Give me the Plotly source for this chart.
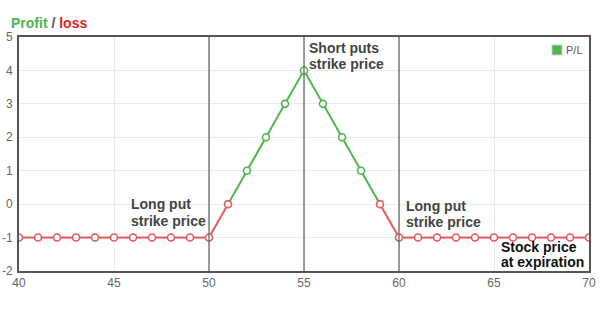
import plotly.graph_objects as go

prices = list(range(40, 71))
pl = [-1]*11 + [0, 1, 2, 3, 4, 3, 2, 1, 0] + [-1]*11
strikes = [50, 55, 60]
x_ticks = [40, 45, 50, 55, 60, 65, 70]
y_ticks = [-2, -1, 0, 1, 2, 3, 4, 5]
y_labels = ["-2", "-1", "0", "1", "2", "3", "4", "5"]

GREEN = "#4cb84c"
RED = "#e05a5a"

fig = go.Figure()

gx, gy, rx, ry = [], [], [], []
for i in range(len(prices) - 1):
    x1, x2, y1, y2 = prices[i], prices[i+1], pl[i], pl[i+1]
    if min(y1, y2) >= 0 and (y1 + y2) > 0:
        gx += [x1, x2, None]; gy += [y1, y2, None]
    else:
        rx += [x1, x2, None]; ry += [y1, y2, None]

fig.add_trace(go.Scatter(x=rx, y=ry, mode="lines", line=dict(color=RED, width=2),
                         showlegend=False, hoverinfo="skip"))
fig.add_trace(go.Scatter(x=gx, y=gy, mode="lines", line=dict(color=GREEN, width=2),
                         showlegend=False, hoverinfo="skip"))
mcol = [GREEN if v > 0 else RED for v in pl]
fig.add_trace(go.Scatter(x=prices, y=pl, mode="markers", name="P/L",
                         marker=dict(symbol="circle", size=7, color="white",
                                     line=dict(color=mcol, width=1.6)),
                         showlegend=False))

for s in strikes:
    fig.add_shape(type="line", x0=s, x1=s, y0=-2, y1=5, xref="x", yref="y",
                  line=dict(color="#666666", width=1.3))

# legend (square + label)
fig.add_shape(type="rect", xref="paper", yref="paper", x0=0.935, x1=0.9526, y0=0.923, y1=0.9658,
              fillcolor=GREEN, line=dict(color="#cfcfcf", width=1))
fig.add_annotation(xref="paper", yref="paper", x=0.957, y=0.944, text="P/L", showarrow=False,
                   xanchor="left", yanchor="middle",
                   font=dict(family="Arial, Liberation Sans", size=11, color="#555555"))

ann_font = dict(family="Arial, Liberation Sans", size=14, color="#444444")
labels = [
    (45.78, 0.0, "Long put", ann_font),
    (45.78, -0.5, "strike price", ann_font),
    (55.15, 4.67, "Short puts", ann_font),
    (55.15, 4.19, "strike price", ann_font),
    (60.26, -0.055, "Long put", ann_font),
    (60.26, -0.534, "strike price", ann_font),
    (65.26, -1.28, "Stock price", dict(ann_font, color="#111111")),
    (65.26, -1.73, "at expiration", dict(ann_font, color="#111111")),
]
for x, y, t, f in labels:
    fig.add_annotation(x=x, y=y, text=f"<b>{t}</b>", showarrow=False,
                       xanchor="left", yanchor="middle", align="left", font=f)

fig.add_annotation(xref="paper", yref="paper", x=-0.018, y=1.0, yshift=14,
                   text=f"<b><span style='color:{GREEN}'>Profit</span> / <span style='color:#e02020'>loss</span></b>",
                   showarrow=False, xanchor="left", yanchor="middle",
                   font=dict(family="Arial, Liberation Sans", size=14, color="#555555"))

fig.update_layout(
    width=602, height=329,
    margin=dict(l=19, r=13, t=37, b=58, autoexpand=False),
    paper_bgcolor="white", plot_bgcolor="white",
    font=dict(family="Arial, Liberation Sans", size=12, color="#666666"),
    showlegend=False,
)
fig.update_xaxes(range=[40, 70], tickvals=x_ticks, showgrid=True, gridcolor="#ebebeb",
                 zeroline=False, showline=True, linecolor="#555555", linewidth=2,
                 mirror=True, ticks="", tickfont=dict(size=12, color="#666666"),
                 automargin=False)
fig.update_yaxes(range=[-2, 5], tickvals=y_ticks, ticktext=y_labels, showgrid=True,
                 gridcolor="#ebebeb", zeroline=False, showline=True, linecolor="#555555",
                 linewidth=2, mirror=True, ticks="", tickfont=dict(size=12, color="#666666"),
                 ticklabelstandoff=2, automargin=False)

fig.write_html("out.html")
